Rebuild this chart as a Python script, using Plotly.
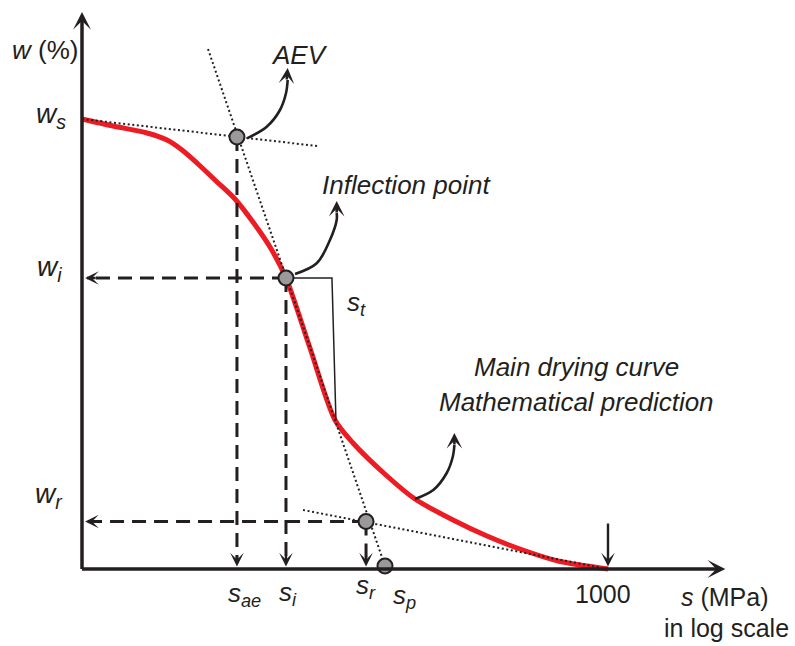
import plotly.graph_objects as go

# ---------------- data (x = log10 s [MPa], y = w [%]) ----------------
curve_logs = [-2.000, -1.705, -1.382, -1.192, -1.049, -0.897, -0.726, -0.546, -0.375, -0.213,
              -0.061, 0.167, 0.405, 0.576, 0.899, 1.165, 1.527, 1.850, 2.163, 2.525, 3.000]
curve_w = [45.0, 44.3, 43.6, 42.9, 41.9, 40.5, 38.8, 37.0, 34.7, 32.2,
           29.1, 22.1, 14.9, 12.6, 9.3, 7.0, 4.9, 3.3, 2.0, 0.8, 0.0]

# characteristic points
pt_names = ["AEV", "inflection", "residual", "sp"]
pt_logs = [-0.527, -0.061, 0.700, 0.880]
pt_w = [43.2, 29.1, 4.75, 0.3]

# tangent lines (start, end)
tan_top_x, tan_top_y = [-2.0, 0.234], [45.0, 42.3]
tan_steep_x, tan_steep_y = [-0.802, 0.880], [52.0, 0.3]
tan_res_x, tan_res_y = [0.101, 3.0], [5.9, 0.0]

# s_t bracket
st_x, st_y = [-0.061, 0.376, 0.414], [29.1, 29.1, 14.9]

# curved pointer arrows
aev_arrow_x, aev_arrow_y = [-0.432, -0.244, -0.118, -0.061, -0.045], [43.07, 44.23, 45.9, 47.57, 48.9]
inf_arrow_x, inf_arrow_y = [0.025, 0.231, 0.357, 0.421, 0.421], [29.5, 30.57, 32.9, 34.9, 35.6]
main_arrow_x, main_arrow_y = [1.165, 1.339, 1.467, 1.524, 1.540], [7.0, 7.9, 9.6, 11.2, 12.4]

LOG_MIN, W_MIN = -2.0, 0.0      # axis origin
LOG_1000 = 3.0
W_TOP = 55.7
LOG_RIGHT = 4.115

BLACK = "#231f20"
RED = "#ED1C24"
FONT = "Liberation Sans, Arial, sans-serif"

fig = go.Figure()

# red curve
fig.add_trace(go.Scatter(x=curve_logs, y=curve_w, mode="lines",
                         line=dict(color=RED, width=5, shape="spline", smoothing=0.8),
                         hoverinfo="skip"))

dot = "2px,2.6px"
for xs, ys in [(tan_top_x, tan_top_y), (tan_steep_x, tan_steep_y), (tan_res_x, tan_res_y)]:
    fig.add_trace(go.Scatter(x=xs, y=ys, mode="lines",
                             line=dict(color=BLACK, width=2, dash=dot), hoverinfo="skip"))

# dashed projection lines
dashed = "14px,8px"
aev_x, inf_x, res_x = pt_logs[0], pt_logs[1], pt_logs[2]
aev_w, inf_w, res_w = pt_w[0], pt_w[1], pt_w[2]
dash_lines = [
    ([aev_x, aev_x], [aev_w, W_MIN + 0.6]),
    ([inf_x, inf_x], [inf_w, W_MIN + 0.6]),
    ([res_x, res_x], [res_w, W_MIN + 0.6]),
    ([inf_x, LOG_MIN + 0.05], [inf_w, inf_w]),
    ([res_x, LOG_MIN + 0.05], [res_w, res_w]),
]
for xs, ys in dash_lines:
    fig.add_trace(go.Scatter(x=xs, y=ys, mode="lines",
                             line=dict(color=BLACK, width=3, dash=dashed), hoverinfo="skip"))

# s_t bracket
fig.add_trace(go.Scatter(x=st_x, y=st_y, mode="lines",
                         line=dict(color=BLACK, width=1.5), hoverinfo="skip"))

# curved arrows
for xs, ys in [(aev_arrow_x, aev_arrow_y), (inf_arrow_x, inf_arrow_y), (main_arrow_x, main_arrow_y)]:
    fig.add_trace(go.Scatter(x=xs, y=ys, mode="lines",
                             line=dict(color=BLACK, width=2.6, shape="spline"), hoverinfo="skip"))

# points
fig.add_trace(go.Scatter(x=pt_logs, y=pt_w, mode="markers",
                         marker=dict(size=15, color="#9a9a9a", line=dict(color=BLACK, width=2)),
                         hoverinfo="skip"))

ann = []
# axes with arrows
ann.append(dict(x=LOG_MIN, y=W_TOP, ax=LOG_MIN, ay=W_MIN - 0.15, axref="x", ayref="y",
                xref="x", yref="y", text="", showarrow=True, arrowhead=3, arrowwidth=3.5,
                arrowsize=0.85, arrowcolor=BLACK, standoff=0))
ann.append(dict(x=LOG_RIGHT, y=W_MIN, ax=LOG_MIN - 0.015, ay=W_MIN, axref="x", ayref="y",
                xref="x", yref="y", text="", showarrow=True, arrowhead=3, arrowwidth=3.5,
                arrowsize=0.85, arrowcolor=BLACK, standoff=0))
# 1000 marker arrow
ann.append(dict(x=LOG_1000, y=W_MIN + 0.25, ax=LOG_1000, ay=4.7, axref="x", ayref="y",
                xref="x", yref="y", text="", showarrow=True, arrowhead=3, arrowwidth=2.4,
                arrowsize=0.95, arrowcolor=BLACK, standoff=0))

# dashed arrow heads
for hx in [aev_x, inf_x, res_x]:
    ann.append(dict(x=hx, y=W_MIN + 0.25, ax=0, ay=-12, xref="x", yref="y", text="",
                    showarrow=True, arrowhead=3, arrowwidth=2.4, arrowsize=0.95,
                    arrowcolor=BLACK, standoff=0))
for hw in [inf_w, res_w]:
    ann.append(dict(x=LOG_MIN + 0.03, y=hw, ax=12, ay=0, xref="x", yref="y", text="",
                    showarrow=True, arrowhead=3, arrowwidth=2.4, arrowsize=0.95,
                    arrowcolor=BLACK, standoff=0))

# curved arrow heads
for (xs, ys, dx) in [(aev_arrow_x, aev_arrow_y, -1), (inf_arrow_x, inf_arrow_y, 0),
                     (main_arrow_x, main_arrow_y, 0)]:
    tip_w = ys[-1] + 1.2
    ann.append(dict(x=xs[-1], y=tip_w, ax=dx, ay=13, xref="x", yref="y", text="",
                    showarrow=True, arrowhead=3, arrowwidth=2.6, arrowsize=1.0,
                    arrowcolor=BLACK, standoff=0))

def label(x, y, text, size=26, xanchor="center", yanchor="middle"):
    ann.append(dict(x=x, y=y, xref="x", yref="y", text=text, showarrow=False,
                    xanchor=xanchor, yanchor=yanchor,
                    font=dict(family=FONT, size=size, color=BLACK)))

label(-2.352, 51.9, "<i>w</i> (%)")
label(-2.133, 45.4, "<i>w<sub>s</sub></i>", size=28, xanchor="right")
label(-2.171, 30.1, "<i>w<sub>i</sub></i>", size=28, xanchor="right")
label(-2.162, 7.4, "<i>w<sub>r</sub></i>", size=28, xanchor="right")
label(0.072, 51.4, "<i>AEV</i>")
label(1.08, 38.4, "<i>Inflection point</i>")
label(2.696, 20.2, "<i>Main drying curve</i>")
label(2.696, 16.7, "<i>Mathematical prediction</i>")
label(0.614, 26.6, "<i>s<sub>t</sub></i>")
label(-0.451, -2.5, "<i>s<sub>ae</sub></i>")
label(-0.042, -2.4, "<i>s<sub>i</sub></i>")
label(0.700, -1.7, "<i>s<sub>r</sub></i>")
label(1.061, -2.7, "<i>s<sub>p</sub></i>")
label(2.953, -2.5, "1000", size=25)
label(4.112, -2.8, "<i>s</i> (MPa)", size=25)
label(4.131, -5.9, "in log scale", size=25)

fig.update_layout(
    width=795, height=646,
    margin=dict(l=0, r=0, t=0, b=0),
    paper_bgcolor="white", plot_bgcolor="white",
    showlegend=False,
    annotations=ann,
    xaxis=dict(range=[-2.7795, 4.7776], visible=False, fixedrange=True),
    yaxis=dict(range=[-7.7, 56.9], visible=False, fixedrange=True),
)

fig.write_html("out.html")
